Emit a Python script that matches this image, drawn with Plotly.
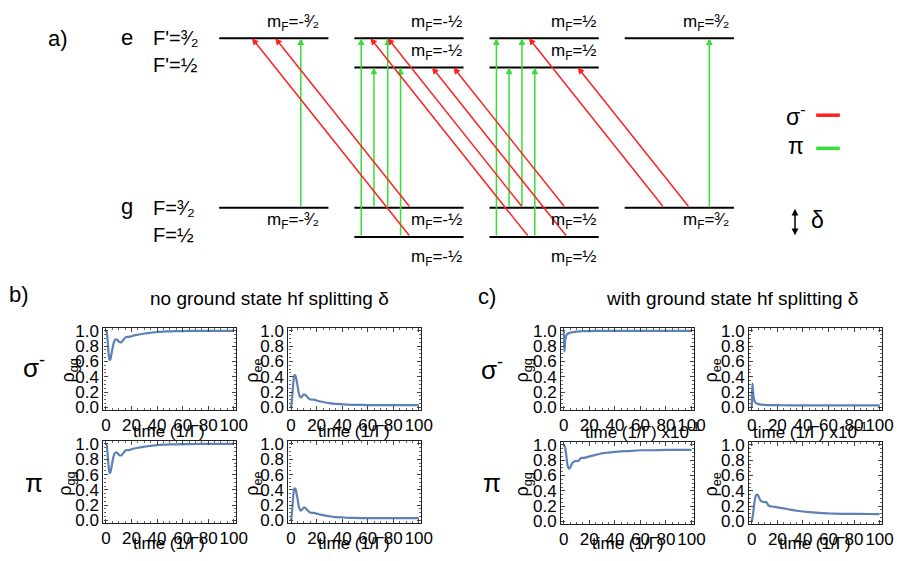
import plotly.graph_objects as go

W, H = 904, 561
FONT = "Liberation Sans, Arial, Helvetica, sans-serif"
CURVE = "#5E81B5"
RED = "#ff2222"
GREEN = "#39dd39"

# ---------------- level scheme data ----------------
# level energies (arbitrary units, ground hyperfine splitting delta = 1)
energy = {"g1": 0.0, "g3": 1.0, "e1": 5.8, "e3": 6.8}
level_mf = {
    "g3": [-1.5, -0.5, 0.5, 1.5],
    "g1": [-0.5, 0.5],
    "e3": [-1.5, -0.5, 0.5, 1.5],
    "e1": [-0.5, 0.5],
}
mf_text = {-1.5: "-³⁄₂", -0.5: "-½", 0.5: "½", 1.5: "³⁄₂"}

# pi transitions: (ground mF, ground level, excited level)
pi_transitions = [
    (-1.5, "g3", "e3"),
    (-0.5, "g1", "e3"), (-0.5, "g3", "e1"), (-0.5, "g3", "e3"), (-0.5, "g1", "e1"),
    (0.5, "g1", "e3"), (0.5, "g3", "e1"), (0.5, "g3", "e3"), (0.5, "g1", "e1"),
    (1.5, "g3", "e3"),
]
# sigma- transitions: (ground mF, ground level, excited level), mF -> mF-1
sigma_transitions = [
    (-0.5, "g3", "e3"), (-0.5, "g1", "e3"),
    (0.5, "g3", "e3"), (0.5, "g3", "e1"), (0.5, "g1", "e3"), (0.5, "g1", "e1"),
    (1.5, "g3", "e3"), (1.5, "g3", "e1"),
]

# ---------------- time evolution data ----------------
t_b = [0, 0.5, 1, 1.5, 2, 2.5, 3, 3.5, 4, 5, 6, 7, 8, 9, 10, 11, 12, 13, 14, 15,
       16, 18, 20, 22, 25, 30, 35, 40, 45, 50, 60, 70, 80, 90, 100]
b_sigma_gg = [1.0, 0.99, 0.93, 0.83, 0.72, 0.64, 0.62, 0.63, 0.67, 0.76, 0.84, 0.88,
              0.89, 0.88, 0.86, 0.85, 0.85, 0.87, 0.89, 0.91, 0.92, 0.92, 0.93, 0.94,
              0.95, 0.965, 0.975, 0.985, 0.99, 0.993, 0.997, 0.999, 1.0, 1.0, 1.0]
b_sigma_ee = [0.0, 0.06, 0.16, 0.27, 0.36, 0.41, 0.42, 0.41, 0.38, 0.29, 0.19, 0.14,
              0.13, 0.15, 0.17, 0.165, 0.15, 0.13, 0.115, 0.105, 0.10, 0.10, 0.09,
              0.08, 0.07, 0.055, 0.045, 0.04, 0.035, 0.033, 0.03, 0.03, 0.03, 0.03, 0.03]
b_pi_gg = [1.0, 0.99, 0.93, 0.83, 0.72, 0.64, 0.62, 0.63, 0.67, 0.76, 0.84, 0.88,
           0.89, 0.88, 0.86, 0.85, 0.85, 0.87, 0.89, 0.91, 0.92, 0.92, 0.93, 0.94,
           0.95, 0.965, 0.975, 0.985, 0.99, 0.993, 0.997, 0.999, 1.0, 1.0, 1.0]
b_pi_ee = [0.0, 0.06, 0.16, 0.27, 0.36, 0.41, 0.42, 0.41, 0.38, 0.29, 0.19, 0.14,
           0.13, 0.15, 0.17, 0.165, 0.15, 0.13, 0.115, 0.105, 0.10, 0.10, 0.09,
           0.08, 0.07, 0.055, 0.045, 0.04, 0.035, 0.033, 0.03, 0.03, 0.03, 0.03, 0.03]

t_c_sigma = [0, 0.25, 0.5, 0.75, 1, 1.5, 2, 3, 4, 6, 8, 10, 15, 20, 30, 50, 75, 100]
c_sigma_gg = [1.0, 0.85, 0.73, 0.78, 0.85, 0.91, 0.94, 0.96, 0.97, 0.98, 0.985,
              0.99, 0.995, 0.997, 1.0, 1.0, 1.0, 1.0]
c_sigma_ee = [0.0, 0.2, 0.31, 0.27, 0.2, 0.13, 0.09, 0.06, 0.05, 0.04, 0.035,
              0.032, 0.03, 0.028, 0.027, 0.025, 0.025, 0.025]

t_c_pi = [0, 1, 2, 3, 4, 5, 6, 7, 8, 9, 10, 11, 12, 13, 14, 16, 18, 20, 25, 30,
          35, 40, 50, 60, 70, 80, 90, 100]
c_pi_gg = [1.0, 0.97, 0.86, 0.73, 0.69, 0.70, 0.74, 0.77, 0.78, 0.79, 0.79, 0.79,
           0.80, 0.82, 0.83, 0.83, 0.84, 0.85, 0.87, 0.89, 0.90, 0.91, 0.92, 0.93,
           0.93, 0.935, 0.935, 0.935]
c_pi_ee = [0.0, 0.1, 0.24, 0.33, 0.35, 0.34, 0.30, 0.27, 0.26, 0.255, 0.25, 0.255,
           0.24, 0.21, 0.20, 0.195, 0.19, 0.185, 0.17, 0.155, 0.14, 0.13, 0.115,
           0.105, 0.10, 0.10, 0.097, 0.095]

x_ticks = [0, 20, 40, 60, 80, 100]
y_ticks = [0.0, 0.2, 0.4, 0.6, 0.8, 1.0]


def px(x):
    return x / W


def py(y):
    return 1 - y / H


fig = go.Figure()
annotations = []
shapes = []

# ---------------- level scheme (axis x9/y9, x in mF units, y in energy) ----------------
COL_PX, MF0_PX = 137.3, 482.0
E_PX, E0_PY = 30.0, 237.0
HALF = 0.404
layout_axes = dict(
    xaxis9=dict(domain=[0, 1], range=[-MF0_PX / COL_PX, (W - MF0_PX) / COL_PX],
                visible=False, fixedrange=True, anchor="y9"),
    yaxis9=dict(domain=[0, 1], range=[(E0_PY - H) / E_PX, E0_PY / E_PX],
                visible=False, fixedrange=True, anchor="x9"),
)
fig.add_trace(go.Scatter(x=[0], y=[0], xaxis="x9", yaxis="y9", mode="markers",
                         marker=dict(opacity=0), showlegend=False, hoverinfo="skip"))

for lvl, mfs in level_mf.items():
    for m in mfs:
        shapes.append(dict(type="line", xref="x9", yref="y9",
                           x0=m - HALF, x1=m + HALF, y0=energy[lvl], y1=energy[lvl],
                           line=dict(color="black", width=2)))

pi_lanes = [0.20, -0.353, -0.259, -0.157, -0.062, -0.353, -0.259, -0.164, -0.069, 0.222]
sigma_lanes = [0.011, 0.011, -0.157, 0.157, -0.113, 0.171, -0.113, 0.076]
tilt = 1.0 / (energy["e3"] - energy["g3"])


def arrow(x0, y0, x1, y1, color):
    annotations.append(dict(xref="x9", yref="y9", axref="x9", ayref="y9",
                            x=x1, y=y1, ax=x0, ay=y0, text="", showarrow=True,
                            arrowhead=2, arrowsize=0.9, arrowwidth=1.5,
                            arrowcolor=color, standoff=0, startstandoff=0))


for (m, g, e), lane in zip(pi_transitions, pi_lanes):
    arrow(m + lane, energy[g], m + lane, energy[e], GREEN)
for (m, g, e), lane in zip(sigma_transitions, sigma_lanes):
    x0 = m + lane
    arrow(x0, energy[g], x0 - (energy[e] - energy[g]) * tilt, energy[e], RED)


def text(x, y, s, size, xanchor="center", yanchor="middle", angle=0):
    annotations.append(dict(xref="paper", yref="paper", x=px(x), y=py(y), text=s,
                            showarrow=False, xanchor=xanchor, yanchor=yanchor,
                            textangle=angle,
                            font=dict(family=FONT, size=size, color="black")))


text(57, 33, "a)", 22)
text(127, 32, "e", 22)
text(151, 33, "F'=³⁄₂", 20, xanchor="left")
text(151, 61, "F'=½", 20, xanchor="left")
text(127, 206, "g", 22)
text(151, 207, "F=³⁄₂", 20, xanchor="left")
text(151, 235, "F=½", 20, xanchor="left")

label_right = {-1.5: 324, -0.5: 469, 0.5: 606, 1.5: 740}
for m in level_mf["e3"]:
    text(label_right[m], 17, "m<sub>F</sub>=" + mf_text[m], 17, xanchor="right")
for m in level_mf["e1"]:
    text(label_right[m], 47, "m<sub>F</sub>=" + mf_text[m], 17, xanchor="right")
for m in level_mf["g3"]:
    text(label_right[m], 221, "m<sub>F</sub>=" + mf_text[m], 17, xanchor="right")
for m in level_mf["g1"]:
    text(label_right[m], 258, "m<sub>F</sub>=" + mf_text[m], 17, xanchor="right")

# legend of the scheme
text(806, 112, "σ<sup>-</sup>", 23)
shapes.append(dict(type="line", xref="paper", yref="paper", x0=px(827), x1=px(851),
                   y0=py(112), y1=py(112), line=dict(color=RED, width=3.5)))
text(806, 144, "π", 23)
shapes.append(dict(type="line", xref="paper", yref="paper", x0=px(827), x1=px(851),
                   y0=py(146), y1=py(146), line=dict(color=GREEN, width=3.5)))
annotations.append(dict(xref="paper", yref="paper", x=px(805.5), y=py(208), ax=0, ay=28,
                        text="", showarrow=True, arrowhead=2, arrowside="end+start",
                        arrowsize=0.9, arrowwidth=1.5, arrowcolor="black",
                        standoff=0, startstandoff=0))
text(828, 219, "δ", 23)

# ---------------- time evolution panels ----------------
text(17, 296, "b)", 22)
text(272, 300, "no ground state hf splitting δ", 19)
text(493, 298, "c)", 22)
text(741, 300, "with ground state hf splitting δ", 19)
text(33, 370, "σ<sup>-</sup>", 26)
text(32, 489, "π", 26)
text(498, 372, "σ<sup>-</sup>", 26)
text(498, 489, "π", 26)

PW, PH = 135, 84
panels = [
    (103, 330, t_b, b_sigma_gg, "ρ<sub>gg</sub>", 69, 436, "time (1/Γ)", 170),
    (291, 330, t_b, b_sigma_ee, "ρ<sub>ee</sub>", 256, 436, "time (1/Γ)", 358),
    (103, 446, t_b, b_pi_gg, "ρ<sub>gg</sub>", 66, 551, "time (1/Γ)", 170),
    (291, 446, t_b, b_pi_ee, "ρ<sub>ee</sub>", 256, 551, "time (1/Γ)", 358),
    (568, 330, t_c_sigma, c_sigma_gg, "ρ<sub>gg</sub>", 530, 436, "time (1/Γ) x10<sup>-1</sup>", 651),
    (759, 330, t_c_sigma, c_sigma_ee, "ρ<sub>ee</sub>", 722, 436, "time (1/Γ) x10<sup>-1</sup>", 821),
    (568, 447, t_c_pi, c_pi_gg, "ρ<sub>gg</sub>", 530, 551, "time (1/Γ)", 636),
    (759, 447, t_c_pi, c_pi_ee, "ρ<sub>ee</sub>", 722, 551, "time (1/Γ)", 826),
]

axis_common = dict(showline=True, linecolor="#222", linewidth=1.3, mirror="allticks",
                   ticks="inside", ticklen=4, tickwidth=1, tickcolor="#444",
                   showgrid=False, zeroline=False, fixedrange=True,
                   tickfont=dict(family=FONT, size=17, color="black"))

for i, (l, t, tt, vals, ylab, ylx, xly, xlab, xlx) in enumerate(panels, start=1):
    sfx = "" if i == 1 else str(i)
    layout_axes["xaxis" + sfx] = dict(
        domain=[px(l), px(l + PW)], range=[-2, 102], tickvals=x_ticks, tickangle=0,
        anchor="y" + sfx, ticklabelstandoff=0,
        minor=dict(ticks="inside", ticklen=2, dtick=5, tickcolor="#666"),
        **axis_common)
    layout_axes["yaxis" + sfx] = dict(
        domain=[py(t + PH), py(t)], range=[-0.03, 1.04], tickvals=y_ticks,
        tickformat=".1f", anchor="x" + sfx, ticklabelstandoff=0,
        minor=dict(ticks="inside", ticklen=2, dtick=0.05, tickcolor="#666"),
        **axis_common)
    fig.add_trace(go.Scatter(x=tt, y=vals, xaxis="x" + sfx, yaxis="y" + sfx,
                             mode="lines", line=dict(color=CURVE, width=2.2, shape="spline",
                                                     smoothing=0.6),
                             showlegend=False))
    text(ylx, t + 44, ylab, 18, angle=-90)
    text(xlx, xly, xlab, 17)

fig.update_layout(
    width=W, height=H, margin=dict(l=0, r=0, t=0, b=0),
    paper_bgcolor="white", plot_bgcolor="rgba(0,0,0,0)",
    showlegend=False, shapes=shapes, annotations=annotations,
    **layout_axes,
)

fig.write_html("out.html", post_script="document.body.style.margin='0';")
